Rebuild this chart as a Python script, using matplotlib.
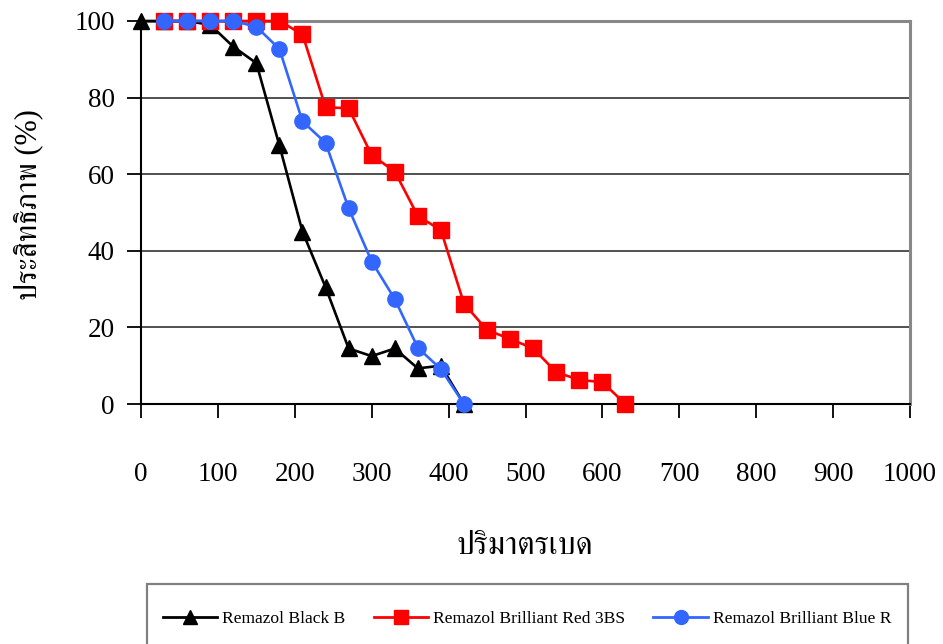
import matplotlib
matplotlib.use("Agg")
import matplotlib.pyplot as plt
from matplotlib.lines import Line2D
from matplotlib.patches import Rectangle

# ---- data ----
x_black = [0, 30, 60, 90, 120, 150, 180, 210, 240, 270, 300, 330, 360, 390, 420]
y_black = [100, 100, 100, 99, 93.3, 89, 67.5, 45, 30.5, 14.5, 12.5, 14.5, 9.3, 10, 0]

x_red = [30, 60, 90, 120, 150, 180, 210, 240, 270, 300, 330, 360, 390, 420, 450, 480, 510, 540, 570, 600, 630]
y_red = [100, 100, 100, 100, 100, 100, 96.5, 77.5, 77.2, 65, 60.7, 49.1, 45.4, 26.2, 19.3, 17, 14.5, 8.3, 6.3, 5.7, 0]

x_blue = [30, 60, 90, 120, 150, 180, 210, 240, 270, 300, 330, 360, 390, 420]
y_blue = [100, 100, 100, 100, 98.5, 92.7, 73.8, 68.2, 51.1, 37.2, 27.4, 14.7, 9.1, 0]

series_names = ["Remazol Black B", "Remazol Brilliant Red 3BS", "Remazol Brilliant Blue R"]
x_ticks = [0, 100, 200, 300, 400, 500, 600, 700, 800, 900, 1000]
y_ticks = [0, 20, 40, 60, 80, 100]
x_label = "ปริมาตรเบด"
y_label = "ประสิทธิภาพ (%)"

plt.rcParams['font.family'] = ['Liberation Serif', 'FreeSerif', 'DejaVu Sans']

W, H = 943, 644
fig = plt.figure(figsize=(W / 100, H / 100), dpi=100)
ax = fig.add_axes([141 / W, 1 - 404 / H, (910 - 141) / W, (404 - 21) / H])

black, red, blue = '#000000', '#ff0000', '#3366ff'
ax.plot(x_black, y_black, color=black, marker='^', markersize=12, lw=1.9, zorder=3, clip_on=False)
ax.plot(x_red, y_red, color=red, marker='s', markersize=11, lw=1.9, zorder=4, clip_on=False)
ax.plot(x_blue, y_blue, color=blue, marker='o', markersize=11, lw=1.9, zorder=5, clip_on=False)

ax.set_xlim(0, 1000)
ax.set_ylim(0, 100)
ax.set_xticks(x_ticks)
ax.set_yticks(y_ticks)
ax.set_xticklabels([str(v) for v in x_ticks], fontsize=19.5)
ax.set_yticklabels([str(v) for v in y_ticks], fontsize=19.5)
ax.tick_params(axis='x', direction='out', length=10, width=1.3, pad=32, color='black')
ax.tick_params(axis='y', direction='out', length=10, width=1.3, pad=9, color='black')
ax.yaxis.grid(True, color='#222222', lw=1.1)
ax.set_axisbelow(True)
for s in ['top', 'right']:
    ax.spines[s].set_color('#888888')
    ax.spines[s].set_linewidth(2.2)
for s in ['left', 'bottom']:
    ax.spines[s].set_color('black')
    ax.spines[s].set_linewidth(1.5)

fig.text(525 / W, 1 - 546 / H, x_label, fontsize=23, ha='center', va='center')
fig.text(28 / W, 1 - 205 / H, y_label, fontsize=22, ha='center', va='center', rotation=90)

# legend
frame = Rectangle((147 / W, -0.05), (908 - 147) / W, (1 - 584 / H) + 0.05,
                  transform=fig.transFigure, facecolor='white', edgecolor='#808080',
                  lw=1.6, zorder=1)
fig.patches.append(frame)
handles = [Line2D([], [], color=black, marker='^', markersize=10, lw=2),
           Line2D([], [], color=red, marker='s', markersize=10, lw=2),
           Line2D([], [], color=blue, marker='o', markersize=10, lw=2)]
leg = fig.legend(handles, series_names, loc='center left',
                 bbox_to_anchor=(163 / W, 1 - 619 / H), ncol=3, fontsize=12.6,
                 frameon=False, borderpad=0, borderaxespad=0, handlelength=3.1,
                 handletextpad=0.3, columnspacing=1.6)
leg.set_zorder(2)

fig.savefig("out.png", dpi=100)
